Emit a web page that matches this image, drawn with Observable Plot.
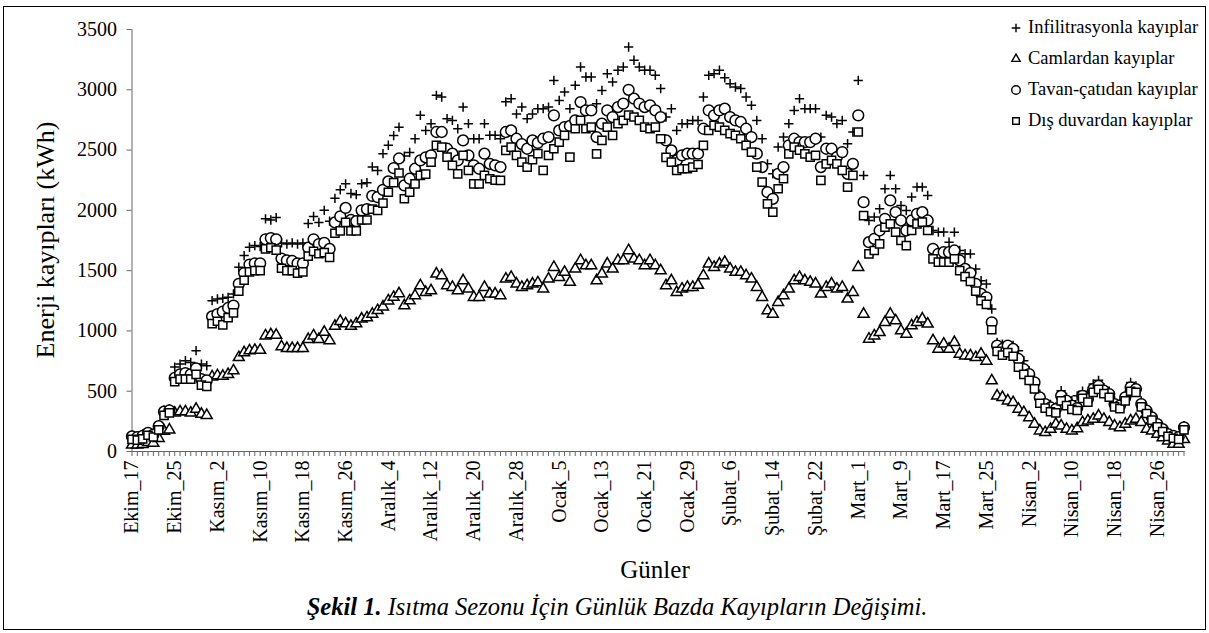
<!DOCTYPE html>
<html lang="tr">
<head>
<meta charset="utf-8">
<script src="https://cdn.jsdelivr.net/npm/d3@7"></script>
<script src="https://cdn.jsdelivr.net/npm/@observablehq/plot@0.6"></script>
<style>
  html, body { margin:0; padding:0; background:#fff; }
  body { width:1209px; height:633px; position:relative; overflow:hidden; font-family:"Liberation Serif","Times New Roman",serif; color:#000; }
  #border { position:absolute; left:3px; top:6px; width:1203px; height:624px; box-sizing:border-box; border:1.5px solid #000; }
  #chart { position:absolute; left:0; top:0; }
  #ytitle { position:absolute; left:46px; top:240px; transform:translate(-50%,-50%) rotate(-90deg); font-size:26px; white-space:nowrap; }
  #xtitle { position:absolute; left:655px; top:570px; transform:translate(-50%,-50%); font-size:25px; white-space:nowrap; }
  #caption { position:absolute; left:617px; top:607px; transform:translate(-50%,-50%); font-size:24.5px; font-style:italic; white-space:nowrap; }
  #legend { position:absolute; left:1009px; top:12px; }
  .row { display:flex; align-items:center; height:31px; font-size:18.5px; white-space:nowrap; }
  .row svg { margin-right:5px; }
</style>
</head>
<body>
<div id="border"></div>
<div id="chart"></div>
<div id="ytitle">Enerji kayıpları (kWh)</div>
<div id="xtitle">Günler</div>
<div id="caption"><b>Şekil 1.</b> Isıtma Sezonu İçin Günlük Bazda Kayıpların Değişimi.</div>
<div id="legend"></div>
<script>
// ---- categories (days of the heating season) ----
const monthNames = ["Ekim", "Kasım", "Aralık", "Ocak", "Şubat", "Mart", "Nisan", "Mayıs"];
const monthFirstDay = [17, 1, 1, 1, 1, 1, 1, 1];
const monthLastDay = [31, 30, 31, 31, 29, 31, 30, 1];
const days = [];
monthNames.forEach((m, k) => { for (let d = monthFirstDay[k]; d <= monthLastDay[k]; d++) days.push(m + "_" + d); });

// ---- tick labels ----
const tickLabels = ["Ekim_17","Ekim_25","Kasım_2","Kasım_10","Kasım_18","Kasım_26","Aralık_4","Aralık_12","Aralık_20","Aralık_28","Ocak_5","Ocak_13","Ocak_21","Ocak_29","Şubat_6","Şubat_14","Şubat_22","Mart_1","Mart_9","Mart_17","Mart_25","Nisan_2","Nisan_10","Nisan_18","Nisan_26"];
const yTicks = [0, 500, 1000, 1500, 2000, 2500, 3000, 3500];

// ---- series (kWh per day) ----
const infiltrasyon = [
 135,130,145,165,155,220,345,355,700,725,
 753,739,836,725,711,1251,1265,1270,1279,1307,
 1528,1625,1694,1708,1700,1930,1920,1940,1730,1720,
 1730,1720,1730,1890,1950,1900,2000,1910,2100,2170,
 2220,2140,2130,2220,2230,2360,2330,2470,2540,2620,
 2690,2450,2480,2594,2788,2663,2719,2954,2940,2760,
 2746,2677,2857,2719,2594,2594,2719,2622,2622,2594,
 2900,2926,2800,2857,2760,2800,2843,2843,2857,3078,
 2912,2982,2843,3037,3189,3106,3106,2885,2995,3134,
 3065,3162,3189,3355,3245,3189,3162,3162,3120,3010,
 2774,2843,2663,2719,2719,2746,2746,2940,3120,3134,
 3162,3100,3051,3023,3010,2940,2871,2746,2594,2386,
 2303,2525,2608,2719,2829,2926,2843,2843,2843,2608,
 2788,2774,2719,2746,2553,2650,3078,2290,1916,1944,
 2013,2179,2290,2179,2040,1999,2110,2193,2193,2124,
 1833,1819,1820,1736,1819,1667,1640,1639,1514,1417,
 1390,1182,905,891,878,880,836,753,670,601,
 476,407,390,370,504,449,421,462,500,480,
 560,590,530,500,420,400,470,573,545,420,
 360,300,245,200,160,140,125,215
];
const camlar = [
 55,55,60,75,70,110,170,180,320,330,
 330,320,352,310,300,620,630,625,640,670,
 780,820,836,840,840,960,970,965,870,855,
 855,855,855,930,960,930,990,920,1040,1080,
 1060,1040,1060,1100,1110,1140,1170,1200,1250,1280,
 1310,1210,1251,1293,1376,1320,1334,1473,1459,1376,
 1362,1334,1417,1348,1279,1279,1362,1307,1307,1293,
 1431,1445,1390,1362,1376,1390,1400,1348,1431,1528,
 1445,1487,1404,1514,1584,1542,1542,1417,1473,1556,
 1514,1584,1584,1667,1597,1584,1542,1584,1542,1500,
 1376,1417,1320,1348,1362,1362,1380,1459,1556,1528,
 1556,1570,1514,1487,1487,1459,1431,1362,1279,1168,
 1140,1237,1293,1348,1417,1445,1417,1404,1390,1307,
 1362,1390,1348,1362,1265,1320,1528,1140,933,960,
 988,1071,1140,1085,1002,974,1044,1071,1100,1058,
 920,850,892,850,905,808,794,794,780,808,
 750,587,462,449,421,407,352,324,282,227,
 172,158,185,227,213,185,172,190,241,255,
 268,296,268,241,213,199,227,255,268,241,
 185,172,144,116,89,61,61,100
];
const tavan = [
 125,120,130,155,140,210,330,340,610,640,
 650,640,690,600,590,1120,1140,1160,1190,1210,
 1390,1480,1550,1560,1560,1760,1770,1760,1600,1585,
 1580,1560,1560,1690,1760,1720,1730,1680,1900,1950,
 2020,1920,1910,2000,2010,2120,2110,2170,2240,2350,
 2430,2207,2262,2345,2414,2440,2456,2650,2650,2511,
 2470,2414,2580,2456,2373,2345,2470,2386,2373,2359,
 2650,2663,2594,2550,2511,2580,2560,2594,2608,2788,
 2663,2691,2700,2746,2898,2829,2829,2608,2719,2829,
 2774,2857,2885,3000,2926,2885,2857,2871,2829,2774,
 2580,2497,2414,2456,2470,2470,2470,2677,2829,2788,
 2829,2843,2774,2746,2733,2677,2608,2470,2359,2151,
 2096,2303,2359,2539,2594,2566,2566,2566,2594,2359,
 2511,2511,2442,2483,2303,2386,2788,2068,1736,1764,
 1833,1930,2082,1985,1916,1833,1916,1971,1985,1916,
 1681,1639,1653,1653,1667,1584,1514,1480,1390,1307,
 1279,1071,878,850,878,850,767,684,642,573,
 448,393,365,352,462,421,380,360,462,435,
 518,545,504,476,393,380,449,532,518,393,
 338,282,227,185,144,130,120,200
];
const duvar = [
 100,95,105,135,120,180,300,320,580,600,
 600,600,640,550,540,1060,1080,1050,1110,1150,
 1330,1420,1490,1500,1500,1680,1690,1670,1520,1500,
 1500,1480,1490,1620,1660,1640,1650,1610,1810,1830,
 1900,1830,1830,1920,1920,2010,2000,2060,2150,2230,
 2310,2096,2151,2220,2290,2300,2400,2539,2525,2442,
 2373,2303,2456,2331,2220,2220,2290,2262,2250,2248,
 2497,2525,2456,2400,2359,2420,2470,2331,2456,2511,
 2566,2622,2442,2677,2746,2677,2691,2469,2580,2691,
 2622,2720,2746,2790,2774,2746,2691,2677,2691,2594,
 2440,2400,2331,2345,2345,2359,2380,2539,2663,2705,
 2691,2663,2636,2622,2594,2539,2483,2359,2234,2054,
 1985,2179,2262,2469,2525,2500,2469,2442,2456,2248,
 2386,2414,2386,2331,2193,2290,2650,1957,1639,1667,
 1722,1860,1888,1819,1750,1708,1833,1888,1902,1833,
 1597,1570,1570,1570,1597,1500,1450,1410,1330,1250,
 1220,1010,830,800,820,790,700,640,590,520,
 400,360,330,320,420,380,350,340,440,410,
 490,515,480,450,370,355,420,500,490,370,
 315,260,205,165,125,110,100,180
];

const seriesNames = ["Infilitrasyonla kayıplar", "Camlardan kayıplar", "Tavan-çatıdan kayıplar", "Dış duvardan kayıplar"];
const seriesValues = [infiltrasyon, camlar, tavan, duvar];

// ---- styles (kept apart from data) ----
const styleOf = {
  "Infilitrasyonla kayıplar": {symbol: "plus", r: 3.1, legendR: 2.9, d3sym: d3.symbolPlus},
  "Camlardan kayıplar": {symbol: "triangle2", r: 5.2, legendR: 4.0, d3sym: d3.symbolTriangle2},
  "Tavan-çatıdan kayıplar": {symbol: "circle", r: 5.4, legendR: 4.3, d3sym: d3.symbolCircle},
  "Dış duvardan kayıplar": {symbol: "square2", r: 5.2, legendR: 4.2, d3sym: d3.symbolSquare2}
};

const tables = seriesNames.map((name, s) => days.map((day, i) => ({day, value: seriesValues[s][i], series: name})));
const labelSet = new Set(tickLabels);

const chart = Plot.plot({
  width: 1209,
  height: 590,
  marginLeft: 131.5,
  marginRight: 25.5,
  marginTop: 29,
  marginBottom: 139,
  style: {fontFamily: "Liberation Serif, Times New Roman, serif", fontSize: "20px", color: "#000", background: "transparent", overflow: "visible"},
  x: {type: "point", domain: days, padding: 0, label: null},
  y: {domain: [0, 3500], label: null},
  marks: [
    Plot.frame({anchor: "left", stroke: "#666", strokeWidth: 1}),
    Plot.frame({anchor: "bottom", stroke: "#666", strokeWidth: 1}),
    Plot.axisY({ticks: yTicks, tickFormat: d3.format("d"), tickSize: 5, tickPadding: 10, stroke: "#666", fontSize: 20, label: null}),
    Plot.axisX({ticks: days, tickSize: 5, tickPadding: 4, tickRotate: -90, stroke: "#666", fontSize: 20,
      tickFormat: d => labelSet.has(d) ? d : "", label: null}),
    ...tables.map((rows, s) => {
      const st = styleOf[seriesNames[s]];
      return Plot.dot(rows, {x: "day", y: "value", symbol: st.symbol, r: st.r,
        stroke: "#000", strokeWidth: 1.5, fill: st.symbol === "plus" ? "none" : "#fff"});
    })
  ]
});
document.getElementById("chart").appendChild(chart);

// ---- legend ----
const legend = d3.select("#legend");
seriesNames.forEach(name => {
  const st = styleOf[name];
  const row = legend.append("div").attr("class", "row");
  const svg = row.append("svg").attr("width", 14).attr("height", 14);
  svg.append("path")
    .attr("transform", "translate(7,7)")
    .attr("d", d3.symbol(st.d3sym, Math.PI * st.legendR * st.legendR)())
    .attr("fill", st.symbol === "plus" ? "none" : "#fff")
    .attr("stroke", "#000").attr("stroke-width", 1.4);
  row.append("span").text(name);
});
</script>
</body>
</html>
